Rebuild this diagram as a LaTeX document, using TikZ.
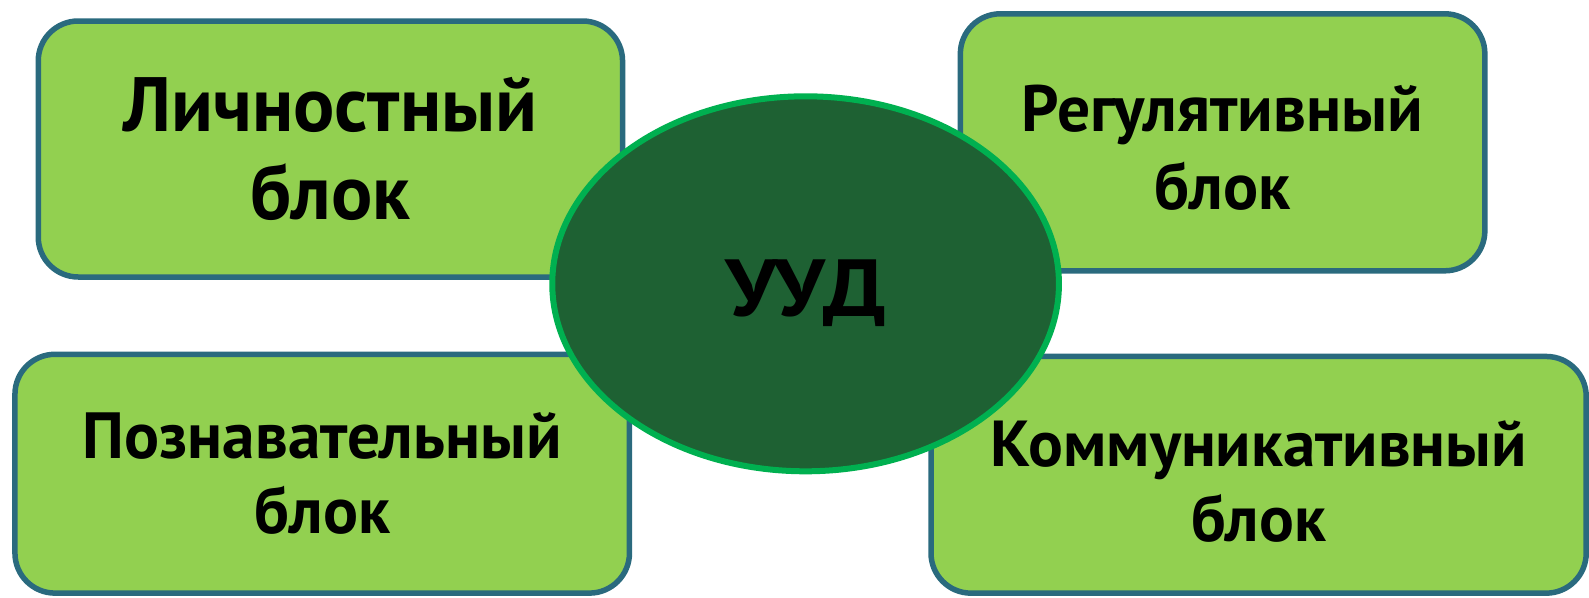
\documentclass[tikz,border=0pt]{standalone}
\usepackage{fontspec}
\setmainfont{PT Sans}
\newfontfamily\uudfont{PT Sans}[FakeStretch=1.12]
\usetikzlibrary{shapes.geometric}
\definecolor{boxfill}{HTML}{92D050}
\definecolor{boxline}{HTML}{2A6A7E}
\definecolor{ovalfill}{HTML}{1E6133}
\definecolor{ovalline}{HTML}{00B050}
\tikzset{
  block/.style={draw=boxline, fill=boxfill, line width=5.5pt, rounded corners=40pt,
    align=center, inner sep=0pt, text=black},
  hub/.style={ellipse, draw=ovalline, fill=ovalfill, line width=6pt, inner sep=0pt, text=black}
}
\begin{document}
\begin{tikzpicture}[x=1pt,y=-1pt]
\useasboundingbox (0,0) rectangle (1589,597);
\node[block, minimum width=584.3pt, minimum height=256pt,
  font=\fontsize{77}{88}\selectfont\bfseries] (lich) at (330.4,149) {Личностный\\блок};
\node[block, minimum width=524.5pt, minimum height=257pt,
  font=\fontsize{65.5}{78}\selectfont\bfseries] (reg) at (1222.6,142.3) {\rule{0pt}{57pt}Регулятивный\\блок};
\node[block, minimum width=614.5pt, minimum height=238.8pt,
  font=\fontsize{65.3}{75}\selectfont\bfseries] (pozn) at (322.2,473.7) {Познавательный\\блок};
\node[block, minimum width=655.2pt, minimum height=236.7pt,
  font=\fontsize{65}{75}\selectfont\bfseries] (komm) at (1258.6,474.8) {\rule{0pt}{60pt}Коммуникативный\\блок};
\node[hub, minimum width=506.7pt, minimum height=375pt, text height=65pt, text depth=0pt,
  font=\uudfont\fontsize{81}{90}\selectfont\bfseries] (uud) at (805.6,283.8) {УУД};
\end{tikzpicture}
\end{document}
